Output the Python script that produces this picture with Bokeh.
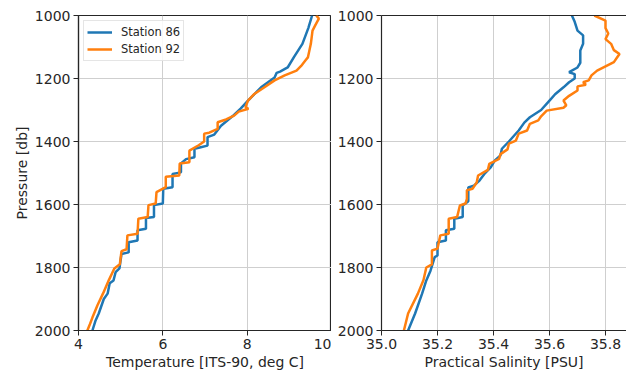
from bokeh.plotting import figure
from bokeh.layouts import row
from bokeh.models import Range1d, FixedTicker, LinearAxis, Legend, LegendItem, NumeralTickFormatter
from bokeh.embed import file_html
from bokeh.resources import INLINE

# ---------------- data ----------------
p86_t = [1000, 1040, 1090, 1130, 1165, 1178, 1182, 1197, 1228, 1270, 1295, 1320, 1350,
         1378, 1386, 1413, 1418, 1423, 1450, 1456, 1470, 1498, 1503, 1545, 1550, 1597, 1602,
         1640, 1643, 1677, 1682, 1714, 1720, 1752, 1757, 1803, 1815, 1841, 1850, 1883, 1900,
         1946, 1970, 2000]
t86 = [9.54, 9.45, 9.31, 9.12, 8.96, 8.78, 8.70, 8.65, 8.33, 8.02, 7.85, 7.65, 7.38,
       7.22, 7.06, 7.06, 6.90, 6.75, 6.75, 6.55, 6.43, 6.43, 6.23, 6.23, 6.01, 6.00, 5.79,
       5.79, 5.60, 5.60, 5.40, 5.40, 5.19, 5.19, 5.02, 4.97, 4.88, 4.83, 4.74, 4.69, 4.60,
       4.48, 4.40, 4.33]

p92_t = [1000, 1010, 1030, 1048, 1090, 1133, 1143, 1160, 1175, 1190, 1206, 1228, 1249,
         1270, 1291, 1296, 1305, 1318, 1330, 1339, 1360, 1372, 1375, 1400, 1412, 1429, 1466,
         1470, 1508, 1512, 1545, 1561, 1597, 1602, 1640, 1645, 1693, 1698, 1742, 1748, 1790,
         1803, 1840, 1883, 1920, 1959, 1980, 2000]
t92 = [9.64, 9.70, 9.62, 9.55, 9.51, 9.44, 9.38, 9.28, 9.17, 8.89, 8.65, 8.41, 8.17,
       8.02, 7.96, 8.03, 7.80, 7.69, 7.50, 7.30, 7.30, 7.10, 6.98, 6.98, 6.85, 6.63, 6.63,
       6.40, 6.39, 6.07, 6.07, 5.85, 5.83, 5.66, 5.64, 5.42, 5.40, 5.16, 5.14, 5.02, 4.98,
       4.85, 4.72, 4.58, 4.45, 4.33, 4.27, 4.21]

p86_s = [1000, 1020, 1048, 1063, 1090, 1111, 1150, 1165, 1180, 1186, 1200, 1212, 1228, 1250,
         1270, 1300, 1323, 1340, 1365, 1385, 1400, 1423, 1444, 1460, 1482, 1500, 1524, 1540,
         1546, 1590, 1597, 1602, 1640, 1645, 1677, 1682, 1714, 1720, 1762, 1767, 1810,
         1841, 1883, 1946, 2000]
s86 = [35.68, 35.69, 35.70, 35.72, 35.72, 35.71, 35.71, 35.70, 35.67, 35.69, 35.69, 35.67,
       35.65, 35.62, 35.60, 35.57, 35.53, 35.51, 35.49, 35.47, 35.455, 35.43, 35.425, 35.405,
       35.39, 35.37, 35.35, 35.33, 35.31, 35.31, 35.30, 35.29, 35.29, 35.26, 35.26, 35.23,
       35.23, 35.20, 35.20, 35.19, 35.175, 35.16, 35.145, 35.12, 35.095]

p92_s = [1000, 1016, 1040, 1057, 1075, 1090, 1110, 1122, 1135, 1148, 1175, 1190, 1206, 1212,
         1220, 1225, 1238, 1255, 1270, 1285, 1293, 1302, 1320, 1333, 1344, 1365, 1375, 1397,
         1407, 1425, 1440, 1455, 1471, 1490, 1508, 1530, 1550, 1555, 1582, 1597, 1603, 1640,
         1645, 1693, 1698, 1740, 1746, 1790, 1800, 1840, 1883, 1946, 2000]
s92 = [35.76, 35.80, 35.80, 35.81, 35.80, 35.82, 35.83, 35.85, 35.84, 35.83, 35.77, 35.75,
       35.74, 35.72, 35.73, 35.70, 35.70, 35.67, 35.65, 35.66, 35.65, 35.59, 35.57, 35.56,
       35.53, 35.52, 35.49, 35.48, 35.455, 35.45, 35.425, 35.42, 35.385, 35.38, 35.345,
       35.34, 35.325, 35.305, 35.305, 35.30, 35.28, 35.27, 35.24, 35.24, 35.21, 35.20,
       35.18, 35.18, 35.16, 35.15, 35.13, 35.095, 35.08]

series_names = ["Station 86", "Station 92"]
temp_ticks = [4, 6, 8, 10]
sal_ticks = [35.0, 35.2, 35.4, 35.6, 35.8]
pres_ticks = [1000, 1200, 1400, 1600, 1800, 2000]

BLUE = "#1f77b4"
ORANGE = "#ff7f0e"
FONT = "DejaVu Sans"
AX = "#262626"
GRID = "#cfcfcf"


def style(p, xticks):
    p.xaxis.ticker = FixedTicker(ticks=xticks)
    p.yaxis.ticker = FixedTicker(ticks=pres_ticks)
    for ax in (p.xaxis[0], p.yaxis[0]):
        ax.axis_line_color = AX
        ax.axis_line_width = 1.2
        ax.major_tick_line_color = AX
        ax.major_tick_out = 5
        ax.major_tick_in = 0
        ax.minor_tick_line_color = None
        ax.major_label_standoff = 3
        ax.major_label_text_font = FONT
        ax.major_label_text_font_size = "14px"
        ax.major_label_text_color = AX
        ax.axis_label_text_font = FONT
        ax.axis_label_text_font_size = "14px"
        ax.axis_label_text_font_style = "normal"
        ax.axis_label_text_color = AX
        ax.axis_label_standoff = 2
    p.xgrid.ticker = FixedTicker(ticks=xticks)
    p.ygrid.ticker = FixedTicker(ticks=pres_ticks)
    p.grid.grid_line_color = GRID
    p.grid.grid_line_width = 1
    p.background_fill_color = "white"
    p.border_fill_color = "white"


H = 373
p1 = figure(width=331, height=H, output_backend="svg", toolbar_location=None,
            x_range=Range1d(4, 10), y_range=Range1d(2000, 1000),
            min_border_left=78, min_border_right=0, min_border_top=15, min_border_bottom=43)
style(p1, temp_ticks)
p1.outline_line_color = AX
p1.outline_line_width = 1.2
p1.outline_line_alpha = 1
p1.xaxis.axis_label = "Temperature [ITS-90, deg C]"
p1.yaxis.axis_label = "Pressure [db]"
r1 = p1.line(t86, p86_t, line_color=BLUE, line_width=2.5)
r2 = p1.line(t92, p92_t, line_color=ORANGE, line_width=2.5)
leg = Legend(items=[LegendItem(label=series_names[0], renderers=[r1]),
                    LegendItem(label=series_names[1], renderers=[r2])],
             location="top_left")
leg.label_text_font = FONT
leg.label_text_font_size = "11.5px"
leg.label_text_color = AX
leg.glyph_width = 25
leg.glyph_height = 16
leg.label_height = 16
leg.label_standoff = 9
leg.spacing = 1
leg.padding = 3
leg.margin = 5
leg.border_line_color = "#cccccc"
leg.border_line_width = 1
leg.background_fill_alpha = 0.85
p1.add_layout(leg)

p2 = figure(width=295, height=H, output_backend="svg", toolbar_location=None,
            x_range=Range1d(35.0, 35.875), y_range=Range1d(2000, 1000),
            min_border_left=50, min_border_right=0, min_border_top=15, min_border_bottom=43)
style(p2, sal_ticks)
p2.xaxis.formatter = NumeralTickFormatter(format="0.0")
p2.outline_line_color = None
p2.xaxis.axis_label = "Practical Salinity [PSU]"
top_ax = LinearAxis(ticker=FixedTicker(ticks=[]), axis_line_color=AX, axis_line_width=1.2,
                    major_tick_line_color=None, minor_tick_line_color=None,
                    major_label_standoff=0, major_tick_out=0, major_tick_in=0)
p2.add_layout(top_ax, "above")
p2.line(s86, p86_s, line_color=BLUE, line_width=2.5)
p2.line(s92, p92_s, line_color=ORANGE, line_width=2.5)

layout = row(p1, p2)
open("out.html", "w").write(file_html(layout, INLINE))
